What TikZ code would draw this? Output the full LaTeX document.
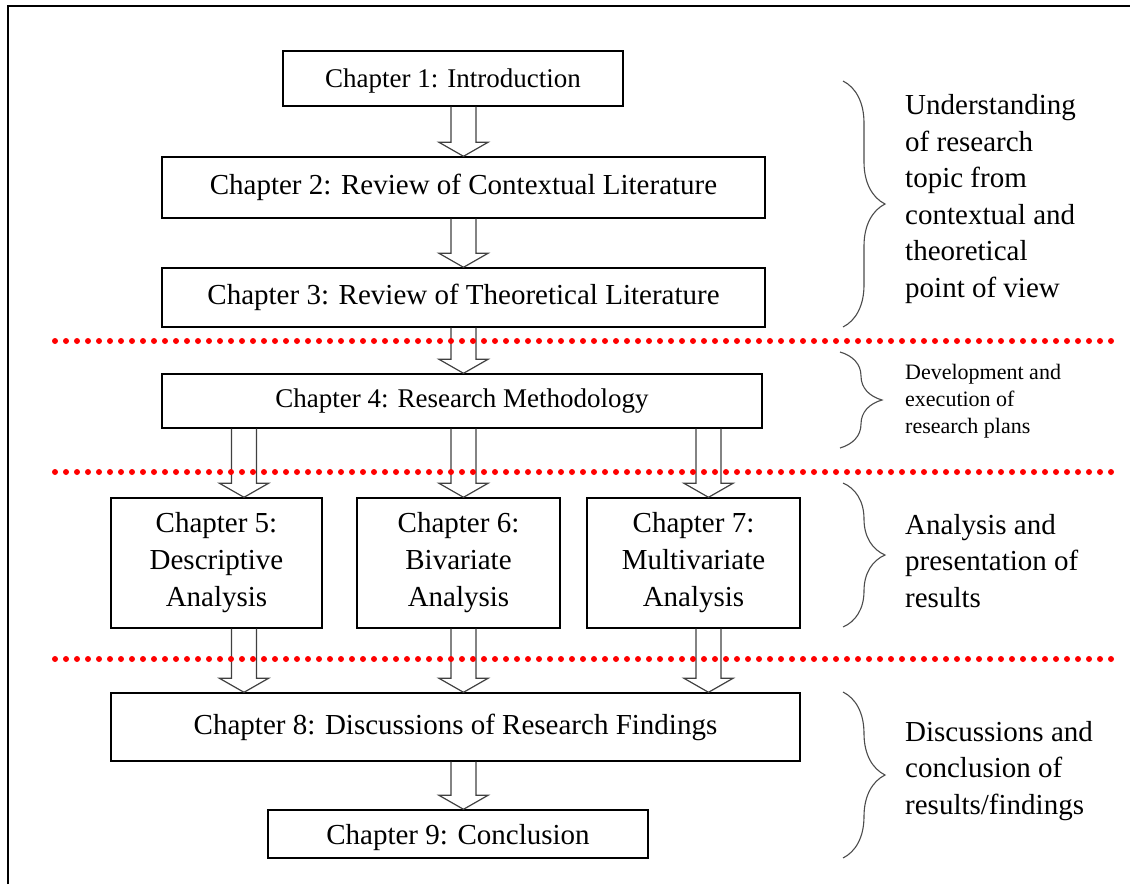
\documentclass[tikz,border=0pt]{standalone}
\usepackage{fontspec}
\setmainfont{Liberation Serif}
\usetikzlibrary{calc}
\usetikzlibrary{decorations.pathreplacing}

% hollow block arrow: column, from node, to node
\newcommand{\blockarrow}[3]{%
  \draw[blockarr] let \p1=(#2.south -| #1), \p2=(#3.north -| #1) in
    (\x1-12.5pt,\y1) -- (\x1-12.5pt,\y2+14pt) -- (\x1-24.5pt,\y2+14pt) -- (\x2,\y2)
    -- (\x1+24.5pt,\y2+14pt) -- (\x1+12.5pt,\y2+14pt) -- (\x1+12.5pt,\y1);
}

\begin{document}
\begin{tikzpicture}[x=1pt, y=-1pt]
\tikzset{
  chap/.style={draw=black, line width=1.4pt, inner sep=0pt, align=center, font=\fontsize{29}{37}\selectfont},
  chapsmall/.style={chap, font=\fontsize{27}{34}\selectfont},
  blockarr/.style={draw=black!75, line width=1.2pt, line join=miter},
  note/.style={anchor=west, align=left, inner sep=0pt, font=\fontsize{29}{36.5}\selectfont},
  smallnote/.style={note, font=\fontsize{22}{27}\selectfont},
  brc/.style={draw=black!70, line width=1.1pt, decorate, decoration={brace, amplitude=42pt}},
  sep/.style={draw=red, line width=6pt, line cap=round, dash pattern=on 0pt off 11pt}
}
\useasboundingbox (0,0) rectangle (1130,884);

% frame
\draw[line width=1.3pt] (8,884) -- (8,6) -- (1130,6);

% arrow columns
\coordinate (colA) at (244,0);
\coordinate (colB) at (463.5,0);
\coordinate (colC) at (708.5,0);

% Chapters
\node[chapsmall, minimum width=340pt, minimum height=55pt, text depth=0pt] (ch1) at (453,78.5) {Chapter 1: Introduction};
\node[chap, minimum width=603pt, minimum height=61pt] (ch2) at (463.5,187.5) {Chapter 2: Review of Contextual Literature};
\node[chap, minimum width=603pt, minimum height=59pt] (ch3) at (463.5,297.5) {Chapter 3: Review of Theoretical Literature};
\node[chapsmall, minimum width=600pt, minimum height=54pt] (ch4) at (462,401) {Chapter 4: Research Methodology};
\node[chap, minimum width=211pt, minimum height=130pt] (ch5) at (216.5,563) {Chapter 5:\\Descriptive\\Analysis};
\node[chap, minimum width=203pt, minimum height=130pt] (ch6) at (458.5,563) {Chapter 6:\\Bivariate\\Analysis};
\node[chap, minimum width=213pt, minimum height=130pt] (ch7) at (693.5,563) {Chapter 7:\\Multivariate\\Analysis};
\node[chap, minimum width=689pt, minimum height=68pt] (ch8) at (455.5,727) {Chapter 8: Discussions of Research Findings};
\node[chap, minimum width=380pt, minimum height=48pt, text depth=0pt] (ch9) at (458,834) {Chapter 9: Conclusion};

% Connections
\blockarrow{colB}{ch1}{ch2}
\blockarrow{colB}{ch2}{ch3}
\blockarrow{colB}{ch3}{ch4}
\blockarrow{colA}{ch4}{ch5}
\blockarrow{colB}{ch4}{ch6}
\blockarrow{colC}{ch4}{ch7}
\blockarrow{colA}{ch5}{ch8}
\blockarrow{colB}{ch6}{ch8}
\blockarrow{colC}{ch7}{ch8}
\blockarrow{colB}{ch8}{ch9}

% Stage separators
\draw[sep] (55,341) -- (1117,341);
\draw[sep] (55,472) -- (1117,472);
\draw[sep] (55,659) -- (1117,659);

% Braces and stage notes
\draw[brc] (843,81) -- (843,327);
\draw[brc] (840,352) -- (840,448);
\draw[brc] (843,483) -- (843,627);
\draw[brc] (843,692) -- (843,858);

\node[note] (n1) at (905,199) {Understanding\\of research\\topic from\\contextual and\\theoretical\\point of view};
\node[smallnote] (n2) at (905,401) {Development and\\execution of\\research plans};
\node[note] (n3) at (905,561) {Analysis and\\presentation of\\results};
\node[note] (n4) at (905,771) {Discussions and\\conclusion of\\results/findings};

\end{tikzpicture}
\end{document}
